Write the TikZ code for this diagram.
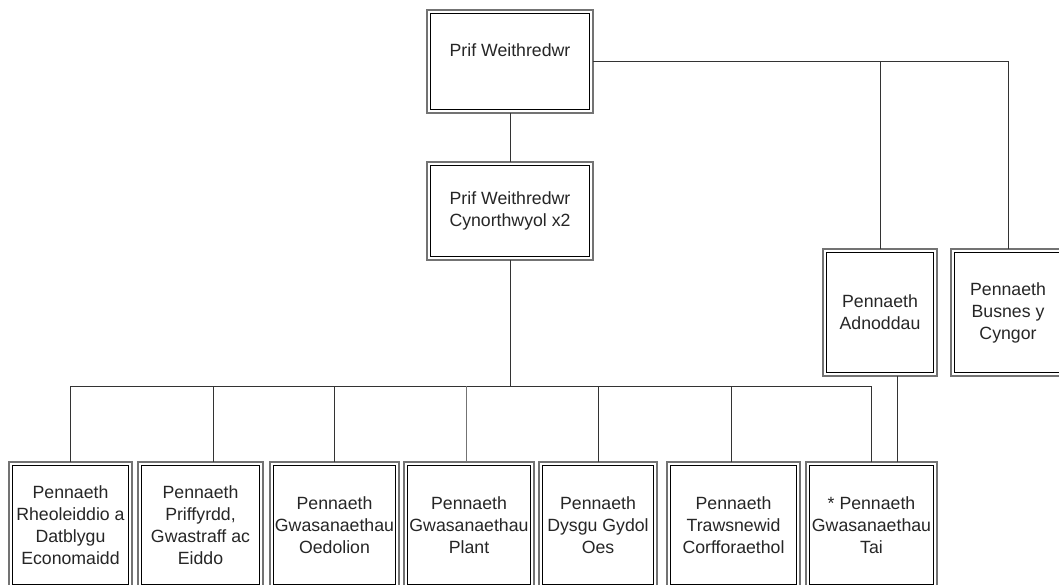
\documentclass[tikz,border=0pt]{standalone}
\usepackage{fontspec}
\setmainfont{Liberation Sans}
\begin{document}
\begin{tikzpicture}[x=1pt,y=-1pt,
  box/.style={draw=black!55, line width=1.8pt, fill=white, align=center,
    inner sep=0pt, outer sep=0pt, text=black!85,
    font=\fontsize{17.7}{22}\selectfont},
  innerbox/.style={draw=black, line width=0.8pt},
  conn/.style={draw=black!80, line width=0.9pt}]
\useasboundingbox (0,0) rectangle (1059,584);
\clip (0,0) rectangle (1059,584);
% nodes
\node[box, minimum width=166pt, minimum height=103pt] (ceo) at (510,61.5) {Prif Weithredwr\\\phantom{x}};
\node[box, minimum width=166pt, minimum height=98pt] (acx) at (510,211) {Prif Weithredwr\\Cynorthwyol x2};
\node[box, minimum width=114pt, minimum height=127pt] (adn) at (880,312.5) {Pennaeth\\Adnoddau};
\node[box, minimum width=114pt, minimum height=127pt] (bus) at (1008,312.5) {Pennaeth\\Busnes y\\Cyngor};
\node[box, minimum width=123pt, minimum height=126pt] (b1) at (70.5,525) {Pennaeth\\Rheoleiddio a\\Datblygu\\Economaidd};
\node[box, minimum width=125pt, minimum height=126pt] (b2) at (200.5,525) {Pennaeth\\Priffyrdd,\\Gwastraff ac\\Eiddo};
\node[box, minimum width=129pt, minimum height=126pt] (b3) at (334.5,525) {Pennaeth\\Gwasanaethau\\Oedolion};
\node[box, minimum width=130pt, minimum height=126pt] (b4) at (469,525) {Pennaeth\\Gwasanaethau\\Plant};
\node[box, minimum width=118pt, minimum height=126pt] (b5) at (598,525) {Pennaeth\\Dysgu Gydol\\Oes};
\node[box, minimum width=133pt, minimum height=126pt] (b6) at (733.5,525) {Pennaeth\\Trawsnewid\\Corfforaethol};
\node[box, minimum width=131pt, minimum height=126pt] (tai) at (871.5,525) {* Pennaeth\\Gwasanaethau\\Tai};
% inner borders
\foreach \n in {ceo,acx,adn,bus,b1,b2,b3,b4,b5,b6,tai}{
  \draw[innerbox] ([xshift=3.5pt,yshift=-3.5pt]\n.north west) rectangle ([xshift=-3.5pt,yshift=3.5pt]\n.south east);
}
% connectors
\coordinate (j) at (510,386);
\draw[conn] (ceo.south) -- (acx.north);
\draw[conn] (ceo.east) -- (bus.north |- ceo.east) -- (bus.north);
\draw[conn] (adn.north |- ceo.east) -- (adn.north);
\draw[conn] (acx.south) -- (j);
\draw[conn] (b1.north |- j) -- (tai.north |- j);
\draw[conn] (b1.north) -- (b1.north |- j);
\draw[conn] ([xshift=12.5pt]b2.north) -- ([xshift=12.5pt]b2.north |- j);
\draw[conn] (b3.north) -- (b3.north |- j);
\draw[conn, draw=black!55] ([xshift=-3pt]b4.north) -- ([xshift=-3pt]b4.north |- j);
\draw[conn] (b5.north) -- (b5.north |- j);
\draw[conn] ([xshift=-2.5pt]b6.north) -- ([xshift=-2.5pt]b6.north |- j);
\draw[conn] (tai.north) -- (tai.north |- j);
\draw[conn] ([xshift=17pt]adn.south) -- ([xshift=17pt]adn.south |- tai.north);
\end{tikzpicture}
\end{document}
